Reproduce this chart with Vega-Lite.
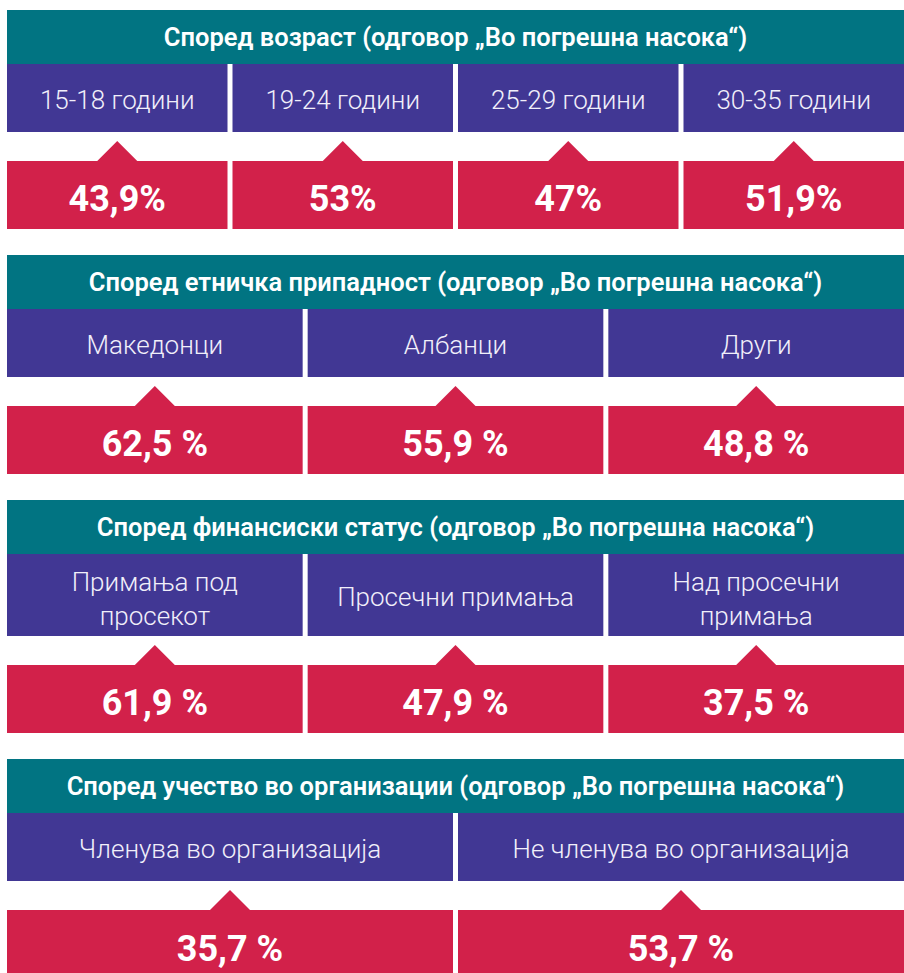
{
  "$schema": "https://vega.github.io/schema/vega-lite/v6.json",
  "padding": {"left": 7, "top": 10, "right": 0, "bottom": 0},
  "background": "white",
  "config": {"view": {"stroke": null}, "font": "Roboto"},
  "datasets": {
    "sections": [
      {"section": 1, "title": "Според возраст (одговор „Во погрешна насока“)"},
      {"section": 2, "title": "Според етничка припадност (одговор „Во погрешна насока“)"},
      {"section": 3, "title": "Според финансиски статус (одговор „Во погрешна насока“)"},
      {"section": 4, "title": "Според учество во организации (одговор „Во погрешна насока“)"}
    ],
    "groups": [
      {"section": 1, "group": "15-18 години", "pct": 43.9, "label": "43,9%"},
      {"section": 1, "group": "19-24 години", "pct": 53, "label": "53%"},
      {"section": 1, "group": "25-29 години", "pct": 47, "label": "47%"},
      {"section": 1, "group": "30-35 години", "pct": 51.9, "label": "51,9%"},
      {"section": 2, "group": "Македонци", "pct": 62.5, "label": "62,5 %"},
      {"section": 2, "group": "Албанци", "pct": 55.9, "label": "55,9 %"},
      {"section": 2, "group": "Други", "pct": 48.8, "label": "48,8 %"},
      {"section": 3, "group": "Примања под\nпросекот", "pct": 61.9, "label": "61,9 %"},
      {"section": 3, "group": "Просечни примања", "pct": 47.9, "label": "47,9 %"},
      {"section": 3, "group": "Над просечни\nпримања", "pct": 37.5, "label": "37,5 %"},
      {"section": 4, "group": "Членува во организација", "pct": 35.7, "label": "35,7 %"},
      {"section": 4, "group": "Не членува во организација", "pct": 53.7, "label": "53,7 %"}
    ]
  },
  "spacing": 26,
  "vconcat": [
    {
      "spacing": 9,
      "vconcat": [
        {
          "spacing": 0,
          "vconcat": [
            {
              "data": {"name": "sections"},
              "transform": [{"filter": "datum.section == 1"}],
              "width": 897, "height": 54,
              "layer": [
                {"mark": {"type": "rect", "color": "#017482"}, "encoding": {}},
                {"mark": {"type": "text", "color": "white", "fontWeight": 600, "fontSize": 25.5, "dy": 1}, "encoding": {"text": {"field": "title"}}}
              ]
            },
            {
              "data": {"name": "groups"},
              "transform": [{"filter": "datum.section == 1"}],
              "width": 897, "height": 68,
              "encoding": {"x": {"field": "group", "type": "nominal", "sort": null, "axis": null, "scale": {"paddingInner": 0.02217, "paddingOuter": 0}}},
              "layer": [
                {"mark": {"type": "rect", "color": "#413794"}},
                {"mark": {"type": "text", "color": "#f1effa", "fontWeight": 300, "fontSize": 26, "dy": 3}, "encoding": {"text": {"field": "group"}}}
              ]
            }
          ]
        },
        {
          "data": {"name": "groups"},
          "transform": [{"filter": "datum.section == 1"}],
          "width": 897, "height": 68,
          "encoding": {"x": {"field": "group", "type": "nominal", "sort": null, "axis": null, "scale": {"paddingInner": 0.02217, "paddingOuter": 0}}},
          "layer": [
            {"mark": {"type": "rect", "color": "#d2214a"}},
            {"mark": {"type": "point", "shape": "M-1,-1.7L0,-2.7L1,-1.7Z", "size": 1600, "filled": true, "color": "#d2214a", "opacity": 1, "strokeWidth": 0}},
            {"mark": {"type": "text", "color": "white", "fontWeight": "bold", "fontSize": 36, "dy": 5}, "encoding": {"text": {"field": "label"}}}
          ]
        }
      ]
    },
    {
      "spacing": 9,
      "vconcat": [
        {
          "spacing": 0,
          "vconcat": [
            {
              "data": {"name": "sections"},
              "transform": [{"filter": "datum.section == 2"}],
              "width": 897, "height": 54,
              "layer": [
                {"mark": {"type": "rect", "color": "#017482"}, "encoding": {}},
                {"mark": {"type": "text", "color": "white", "fontWeight": 600, "fontSize": 25.5, "dy": 1}, "encoding": {"text": {"field": "title"}}}
              ]
            },
            {
              "data": {"name": "groups"},
              "transform": [{"filter": "datum.section == 2"}],
              "width": 897, "height": 68,
              "encoding": {"x": {"field": "group", "type": "nominal", "sort": null, "axis": null, "scale": {"paddingInner": 0.01663, "paddingOuter": 0}}},
              "layer": [
                {"mark": {"type": "rect", "color": "#413794"}},
                {"mark": {"type": "text", "color": "#f1effa", "fontWeight": 300, "fontSize": 26, "dy": 3}, "encoding": {"text": {"field": "group"}}}
              ]
            }
          ]
        },
        {
          "data": {"name": "groups"},
          "transform": [{"filter": "datum.section == 2"}],
          "width": 897, "height": 68,
          "encoding": {"x": {"field": "group", "type": "nominal", "sort": null, "axis": null, "scale": {"paddingInner": 0.01663, "paddingOuter": 0}}},
          "layer": [
            {"mark": {"type": "rect", "color": "#d2214a"}},
            {"mark": {"type": "point", "shape": "M-1,-1.7L0,-2.7L1,-1.7Z", "size": 1600, "filled": true, "color": "#d2214a", "opacity": 1, "strokeWidth": 0}},
            {"mark": {"type": "text", "color": "white", "fontWeight": "bold", "fontSize": 36, "dy": 5}, "encoding": {"text": {"field": "label"}}}
          ]
        }
      ]
    },
    {
      "spacing": 9,
      "vconcat": [
        {
          "spacing": 0,
          "vconcat": [
            {
              "data": {"name": "sections"},
              "transform": [{"filter": "datum.section == 3"}],
              "width": 897, "height": 54,
              "layer": [
                {"mark": {"type": "rect", "color": "#017482"}, "encoding": {}},
                {"mark": {"type": "text", "color": "white", "fontWeight": 600, "fontSize": 25.5, "dy": 1}, "encoding": {"text": {"field": "title"}}}
              ]
            },
            {
              "data": {"name": "groups"},
              "transform": [{"filter": "datum.section == 3"}],
              "width": 897, "height": 82,
              "encoding": {"x": {"field": "group", "type": "nominal", "sort": null, "axis": null, "scale": {"paddingInner": 0.01663, "paddingOuter": 0}}},
              "layer": [
                {"mark": {"type": "rect", "color": "#413794"}},
                {"transform": [{"filter": "indexof(datum.group, '\\n') < 0"}], "mark": {"type": "text", "color": "#f1effa", "fontWeight": 300, "fontSize": 26, "dy": 3}, "encoding": {"text": {"field": "group"}}},
                {"transform": [{"filter": "indexof(datum.group, '\\n') >= 0"}], "mark": {"type": "text", "color": "#f1effa", "fontWeight": 300, "fontSize": 26, "lineBreak": "\n", "lineHeight": 34, "dy": -12}, "encoding": {"text": {"field": "group"}}}
              ]
            }
          ]
        },
        {
          "data": {"name": "groups"},
          "transform": [{"filter": "datum.section == 3"}],
          "width": 897, "height": 68,
          "encoding": {"x": {"field": "group", "type": "nominal", "sort": null, "axis": null, "scale": {"paddingInner": 0.01663, "paddingOuter": 0}}},
          "layer": [
            {"mark": {"type": "rect", "color": "#d2214a"}},
            {"mark": {"type": "point", "shape": "M-1,-1.7L0,-2.7L1,-1.7Z", "size": 1600, "filled": true, "color": "#d2214a", "opacity": 1, "strokeWidth": 0}},
            {"mark": {"type": "text", "color": "white", "fontWeight": "bold", "fontSize": 36, "dy": 5}, "encoding": {"text": {"field": "label"}}}
          ]
        }
      ]
    },
    {
      "spacing": 9,
      "vconcat": [
        {
          "spacing": 0,
          "vconcat": [
            {
              "data": {"name": "sections"},
              "transform": [{"filter": "datum.section == 4"}],
              "width": 897, "height": 54,
              "layer": [
                {"mark": {"type": "rect", "color": "#017482"}, "encoding": {}},
                {"mark": {"type": "text", "color": "white", "fontWeight": 600, "fontSize": 25.5, "dy": 1}, "encoding": {"text": {"field": "title"}}}
              ]
            },
            {
              "data": {"name": "groups"},
              "transform": [{"filter": "datum.section == 4"}],
              "width": 897, "height": 68,
              "encoding": {"x": {"field": "group", "type": "nominal", "sort": null, "axis": null, "scale": {"paddingInner": 0.01109, "paddingOuter": 0}}},
              "layer": [
                {"mark": {"type": "rect", "color": "#413794"}},
                {"mark": {"type": "text", "color": "#f1effa", "fontWeight": 300, "fontSize": 26, "dy": 3}, "encoding": {"text": {"field": "group"}}}
              ]
            }
          ]
        },
        {
          "data": {"name": "groups"},
          "transform": [{"filter": "datum.section == 4"}],
          "width": 897, "height": 63,
          "encoding": {"x": {"field": "group", "type": "nominal", "sort": null, "axis": null, "scale": {"paddingInner": 0.01109, "paddingOuter": 0}}},
          "layer": [
            {"mark": {"type": "rect", "color": "#d2214a"}},
            {"mark": {"type": "point", "shape": "M-1,-1.575L0,-2.575L1,-1.575Z", "size": 1600, "filled": true, "color": "#d2214a", "opacity": 1, "strokeWidth": 0}},
            {"mark": {"type": "text", "color": "white", "fontWeight": "bold", "fontSize": 36, "dy": 8}, "encoding": {"text": {"field": "label"}}}
          ]
        }
      ]
    }
  ]
}
